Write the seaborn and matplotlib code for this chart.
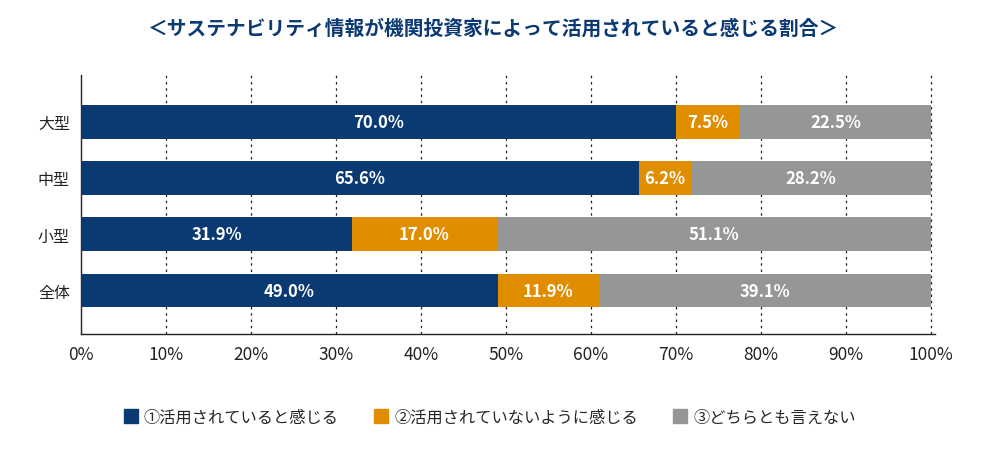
import numpy as np
import pandas as pd
import matplotlib
matplotlib.use('Agg')
import matplotlib.pyplot as plt
import seaborn as sns
from matplotlib.lines import Line2D

categories = ['大型', '中型', '小型', '全体']
used = [70.0, 65.6, 31.9, 49.0]
not_used = [7.5, 6.2, 17.0, 11.9]
neither = [22.5, 28.2, 51.1, 39.1]
series_names = ['①活用されていると感じる', '②活用されていないように感じる', '③どちらとも言えない']
x_ticks = [0, 10, 20, 30, 40, 50, 60, 70, 80, 90, 100]
title = '＜サステナビリティ情報が機関投資家によって活用されていると感じる割合＞'

colors = ['#0b3a73', '#e08d00', '#969696']

sns.set_theme(style='white')
plt.rcParams['font.family'] = ['Noto Sans CJK JP', 'DejaVu Sans']

df = pd.DataFrame({'cat': categories, 'used': used, 'not_used': not_used, 'neither': neither})
df['c1'] = df['used']
df['c2'] = df['used'] + df['not_used']
df['c3'] = df['c2'] + df['neither']

fig = plt.figure(figsize=(10, 4.6), dpi=100)
ax = fig.add_axes([0.081, 0.272, 0.854, 0.563])

# stacked bars: draw cumulative totals back to front
for col, color in zip(['c3', 'c2', 'c1'], colors[::-1]):
    sns.barplot(data=df, x=col, y='cat', orient='h', color=color,
                width=0.6, saturation=1, linewidth=0, ax=ax, zorder=3)

# value labels in the middle of each segment
for i, row in df.iterrows():
    starts = [0, row['c1'], row['c2']]
    vals = [row['used'], row['not_used'], row['neither']]
    for s, v in zip(starts, vals):
        ax.text(s + v / 2, i, f'{v:.1f}%', ha='center', va='center',
                color='white', fontsize=12, fontweight='bold', zorder=4)

ax.set_xlim(0, 100.47)
ax.set_ylim(3.77, -0.83)
ax.set_xticks(x_ticks)
ax.set_xticklabels([f'{t}%' for t in x_ticks], fontsize=12.5, color='#222222')
ax.tick_params(axis='y', labelsize=11.5, labelcolor='#222222', length=0, pad=8)
ax.tick_params(axis='x', length=0, pad=8)
ax.set_xlabel('')
ax.set_ylabel('')

for t in x_ticks[1:]:
    ax.axvline(t, color='#222222', linestyle=(0, (2, 3)), linewidth=0.9, zorder=1)

for side in ['top', 'right']:
    ax.spines[side].set_visible(False)
for side in ['left', 'bottom']:
    ax.spines[side].set_color('#222222')
    ax.spines[side].set_linewidth(1.0)

fig.text(0.493, 0.938, title, ha='center', va='center', fontsize=14.2,
         fontweight='bold', color='#0b3a73')

handles = [Line2D([0], [0], marker='s', linestyle='', markersize=10,
                  markerfacecolor=c, markeredgecolor=c) for c in colors]
fig.legend(handles, series_names, loc='center', bbox_to_anchor=(0.49, 0.09),
           ncol=3, frameon=False, fontsize=11.7, handlelength=0.8,
           handletextpad=0.4, columnspacing=2.2)

fig.savefig('out.png', dpi=100)
